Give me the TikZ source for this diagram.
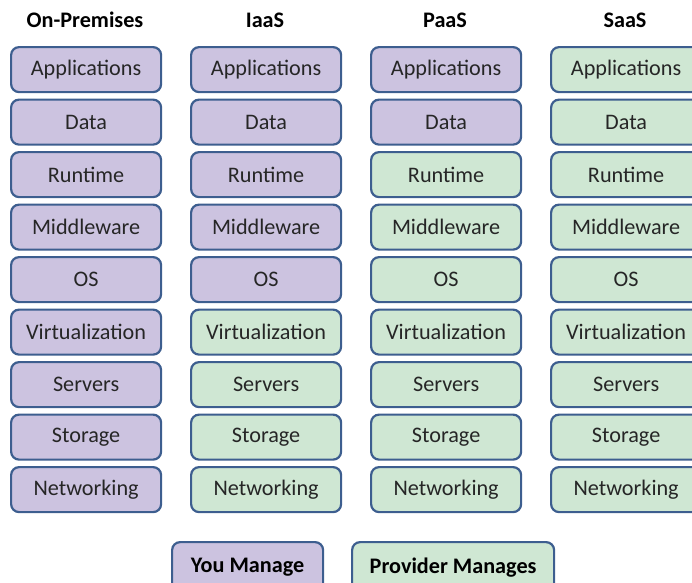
\documentclass[tikz,border=0pt]{standalone}
\usepackage{fontspec}
\setmainfont{Carlito}
\definecolor{you}{HTML}{CCC3E0}
\definecolor{prov}{HTML}{CFE7D3}
\definecolor{edge}{HTML}{3D5E8F}
\definecolor{txt}{HTML}{262626}
\tikzset{
  layer/.style={draw=edge, line width=2.2pt, rounded corners=8pt, minimum width=150pt, minimum height=45pt, inner sep=0pt, anchor=north west, font=\fontsize{22.2}{26}\selectfont, text=txt},
  youbox/.style={layer, fill=you},
  provbox/.style={layer, fill=prov},
  head/.style={font=\fontsize{22.2}{26}\selectfont\bfseries, text=black},
}
\begin{document}
\begin{tikzpicture}[x=1pt,y=-1pt]
\path[use as bounding box, clip] (0,0) rectangle (692,582);
\node[head] (h1) at (85,20) {On-Premises};
\node[head] (h2) at (265,20) {IaaS};
\node[head] (h3) at (445,20) {PaaS};
\node[head] (h4) at (625,20) {SaaS};
\foreach \c/\x/\n in {1/10/9, 2/190/5, 3/370/2, 4/550/0}{
  \foreach \r/\lab in {1/Applications, 2/Data, 3/Runtime, 4/Middleware, 5/OS, 6/Virtualization, 7/Servers, 8/Storage, 9/Networking}{
    \pgfmathtruncatemacro{\isyou}{\r<=\n ? 1 : 0}
    \ifnum\isyou=1
      \node[youbox] (c\c r\r) at (\x, {46+(\r-1)*52.5}) {\lab};
    \else
      \node[provbox] (c\c r\r) at (\x, {46+(\r-1)*52.5}) {\lab};
    \fi
  }
}
\node[youbox, minimum width=151pt, minimum height=50pt, font=\fontsize{22.2}{26}\selectfont\bfseries, text=black] (legy) at (171,541) {\raisebox{-3pt}{You Manage}};
\node[provbox, minimum width=202pt, minimum height=50pt, font=\fontsize{22.2}{26}\selectfont\bfseries, text=black] (legp) at (351,541) {\raisebox{-3pt}{Provider Manages}};
\end{tikzpicture}
\end{document}
